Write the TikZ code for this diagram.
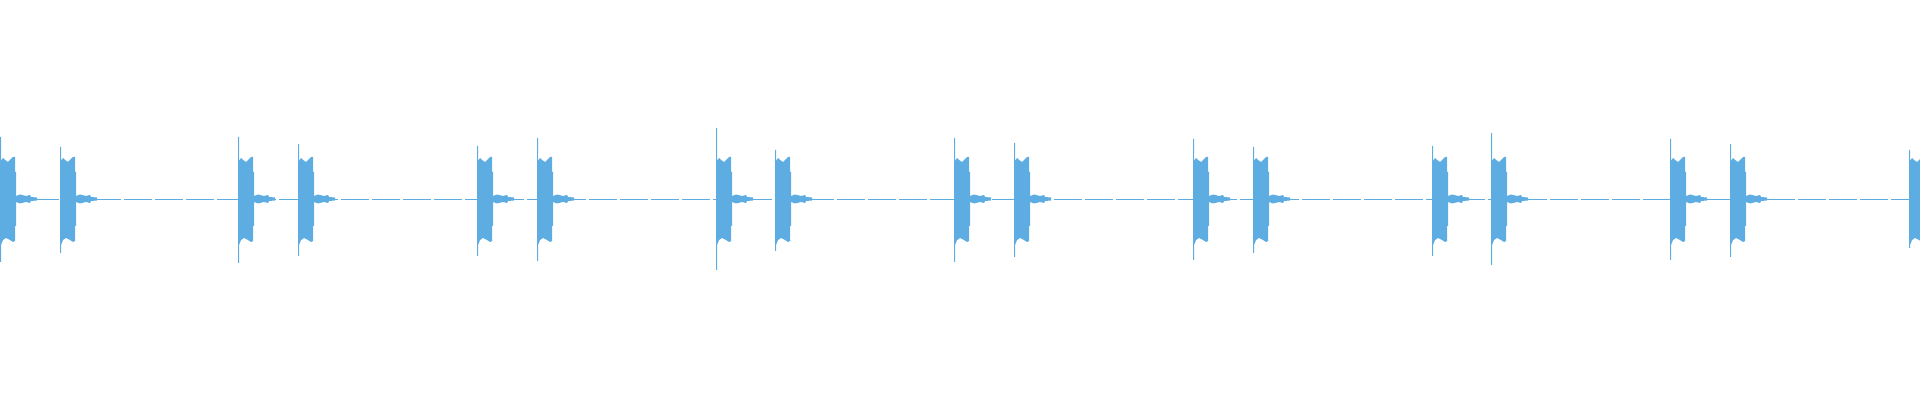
\documentclass[tikz,border=0pt]{standalone}
\definecolor{wave}{HTML}{5DADE2}
\tikzset{wv/.style={fill=wave,draw=none}}
\newcommand{\burstshape}[3]{%
 \fill[wv] (#1,#2) -- (#1+1,#2) -- (#1+1,161) -- (#1+3,158) -- (#1+5,160) -- (#1+8,162) -- (#1+11,159) -- (#1+13,157) -- (#1+15,157) -- (#1+15,172) -- (#1+16,172) -- (#1+16,226) -- (#1+15,226) -- (#1+15,241) -- (#1+13,242) -- (#1+10,240) -- (#1+6,238) -- (#1+3,240) -- (#1+1,245) -- (#1+1,#3) -- (#1,#3) -- cycle;
 \fill[wv] (#1+16,196) -- (#1+20,194.5) -- (#1+26,196) -- (#1+30,195) -- (#1+31,197) -- (#1+37,197.5) -- (#1+37,200.5) -- (#1+31,201) -- (#1+30,203) -- (#1+26,202) -- (#1+20,203.5) -- (#1+16,202) -- cycle;}
\begin{document}
\begin{tikzpicture}[x=0.5pt,y=-0.5pt]
\useasboundingbox (0,0) rectangle (1920,400);
\draw[wave,line width=0.45pt,dash pattern=on 14pt off 1.5pt] (0,199) -- (1920,199);
\foreach \x/\a/\b in {0/137/262,60/147/253,238/137/263,298/144/256,477/146/256,537/138/261,716/128/270,775/150/251,954/138/262,1014/143/257,1193/139/260,1253/147/253,1432/146/256,1491/133/265,1670/139/260,1730/144/257,1909/150/248}{
 \burstshape{\x}{\a}{\b}
}
\end{tikzpicture}
\end{document}
